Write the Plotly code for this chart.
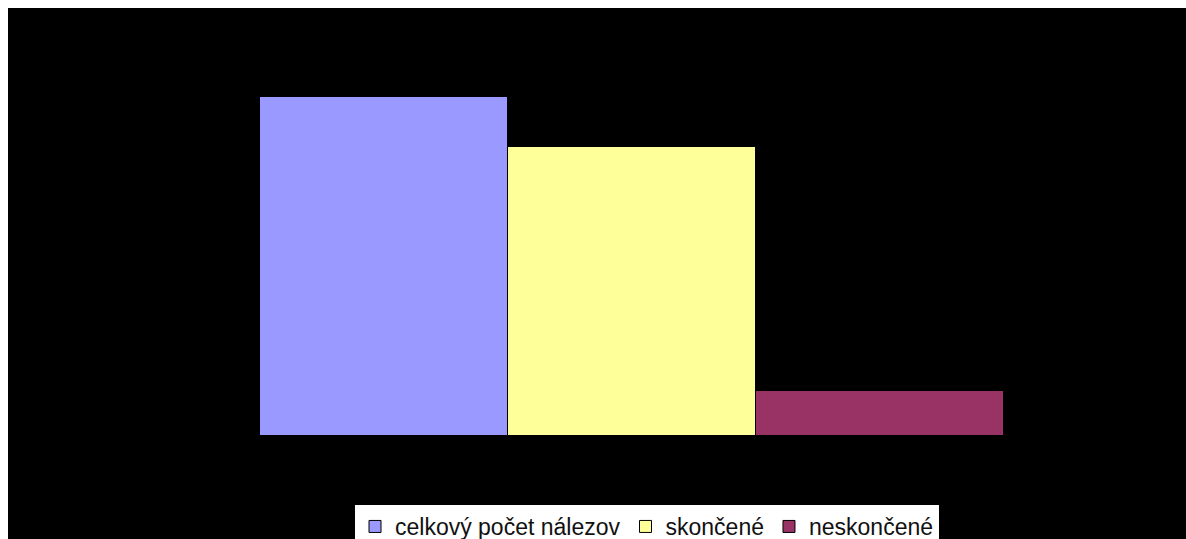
import plotly.graph_objects as go

categories = [""]
series_names = ["celkový počet nálezov", "skončené", "neskončené"]
series_values = [68, 58, 9]
series_colors = ["#9999FF", "#FFFF99", "#993366"]

W, H = 1186, 539
# plot area in figure pixels (page adds an 8px offset)
L, R, T, B = 252, 996, 29, 428
pw, ph = R - L, B - T

def px_x(p):
    return (p - L) / pw

def px_y(p):
    return (B - p) / ph

fig = go.Figure()
for name, val, col in zip(series_names, series_values, series_colors):
    fig.add_trace(go.Bar(
        x=categories, y=[val], name=name,
        marker=dict(color=col, line=dict(color="#000000", width=1)),
    ))

fig.update_layout(
    width=W, height=H,
    margin=dict(l=L, r=W - R, t=T, b=H - B, pad=0, autoexpand=False),
    paper_bgcolor="black",
    plot_bgcolor="black",
    barmode="group", bargap=0, bargroupgap=0,
    showlegend=True,
    legend=dict(
        orientation="h",
        x=px_x(347), xanchor="left",
        y=px_y(497), yanchor="top",
        bgcolor="white",
        font=dict(family="Liberation Sans, Arial, sans-serif", size=23, color="#111111"),
        itemwidth=30,
        traceorder="normal",
    ),
    xaxis=dict(visible=False, range=[-0.5, 0.5], fixedrange=True),
    yaxis=dict(visible=False, range=[0, 80], fixedrange=True),
)

fig.write_html(
    "out.html",
    post_script=(
        "document.documentElement.style.overflow='hidden';"
        "document.body.style.overflow='hidden';"
        "document.body.style.marginRight='0px';"
    ),
)
